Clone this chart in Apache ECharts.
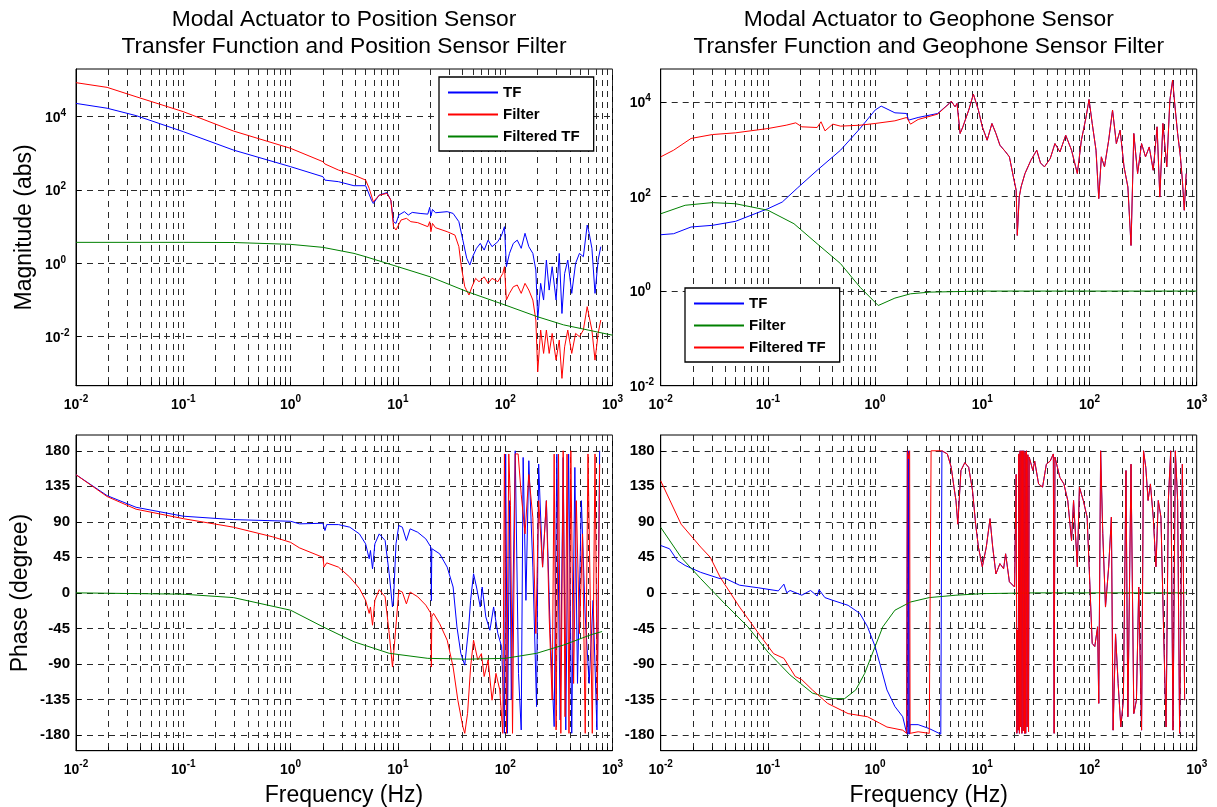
<!DOCTYPE html>
<html>
<head>
<meta charset="utf-8">
<script src="https://cdn.jsdelivr.net/npm/echarts@6/dist/echarts.min.js"></script>
<style>html,body{margin:0;padding:0;background:#fff}#chart{width:1217px;height:807px}</style>
</head>
<body>
<div id="chart"></div>
<script>
// ---------------- tick labels ----------------
const xLabelExps = [-2, -1, 0, 1, 2, 3];          // 10^-2 ... 10^3 Hz
const xGridMultipliers = [1, 2, 3, 4, 5, 6, 7, 8, 9];
const magLabelExps = [-2, 0, 2, 4];                // 10^-2 ... 10^4
const phaseTicks = [-180, -135, -90, -45, 0, 45, 90, 135, 180];

// ---------------- titles / names ----------------
const titleLeft = 'Modal Actuator to Position Sensor\nTransfer Function and Position Sensor Filter';
const titleRight = 'Modal Actuator to Geophone Sensor\nTransfer Function and Geophone Sensor Filter';
const magName = 'Magnitude (abs)';
const phaseName = 'Phase (degree)';
const freqName = 'Frequency (Hz)';
const legendNames = ['TF', 'Filter', 'Filtered TF'];

// ---------------- data: [frequency Hz, magnitude abs] ----------------
const posMagTF = [[0.01,2.3e4],[0.0195,1.7e4],[0.0363,1.07e4],[0.1,3900],[0.293,1230],[1,433],[2.0,231],[2.09,186],[2.79,169],[3.89,131],[5.0,131],[5.2,100],[5.67,53],[5.9,43],[6.7,73],[7.9,85],[8.6,53],[9.1,13.7],[9.6,12.3],[10.2,20.8],[11.5,25.7],[12.5,20.8],[13.6,24.5],[16.1,23],[19.0,22],[19.8,33.7],[20.3,19.4],[21,29.5],[22.4,24],[28.8,25.7],[32.7,23],[37,13.7],[40.3,4.3],[43.8,1.37],[46.8,0.9],[49.7,1.52],[54,2.57],[58.6,3.5],[63.7,2.3],[69.3,4.3],[75.4,2.85],[85.4,3.9],[92.7,5.9],[98.4,10],[102.6,0.81],[109.6,1.87],[119,3.5],[129.5,4.3],[141,2.57],[153,6.6],[166,2.85],[181,1.87],[193,0.66],[201,0.0285],[214,0.285],[228,0.1],[242,1.23],[257,0.187],[274,0.81],[298,0.1],[319,1.87],[338,0.043],[358,0.53],[383,1.23],[417,0.152],[453,1.0],[492,1.87],[535,1.52],[581,11.1],[606,6.6],[643,2.57],[687,0.152],[735,1.23],[778,2.85]];
const posMagFilter = [[0.01,8.45e4],[0.0195,6.3e4],[0.0363,3.5e4],[0.1,1.37e4],[0.293,4070],[1,1370],[2.0,593],[2.09,513],[2.79,351],[3.89,256],[5.0,187],[5.4,111],[5.9,48],[6.7,72],[7.9,81],[8.6,53],[9.1,10],[9.6,8.1],[10.7,15.2],[12.0,16.9],[13.2,13.7],[15.3,12.9],[19.0,10],[19.8,13.7],[20.3,7.3],[21,12.3],[22.4,9.4],[28.8,7.3],[34,5.9],[37,2.85],[39,0.81],[42,0.23],[46,0.137],[49,0.23],[53,0.39],[57,0.316],[63.7,0.43],[69.3,0.285],[75.4,0.39],[85.4,0.316],[95,0.53],[98.4,0.81],[102.6,0.1],[109.6,0.152],[119,0.23],[129.5,0.257],[141,0.152],[153,0.285],[166,0.187],[181,0.1],[193,0.0285],[201,0.0011],[214,0.0152],[228,0.0035],[242,0.0152],[257,0.0035],[274,0.0123],[298,0.0023],[319,0.0081],[338,0.00073],[358,0.0053],[383,0.0152],[417,0.0035],[453,0.0123],[492,0.01],[535,0.0152],[581,0.066],[606,0.035],[643,0.0152],[687,0.0023],[735,0.0123],[778,0.0285]];
const posMagFiltered = [[0.01,3.74],[0.1,3.74],[0.3,3.7],[1,3.3],[2,2.73],[3.9,1.87],[5,1.52],[10,0.81],[20,0.43],[44,0.17],[100,0.073],[200,0.035],[350,0.021],[1000,0.011]];

const geoMagTFLow = [[0.01,15.5],[0.0132,16.3],[0.0192,22.6],[0.0303,24.5],[0.05,29.8],[0.1,55],[0.136,76],[0.19,153],[0.288,357],[0.476,949],[0.723,2720],[1.0,6670],[1.14,8100],[1.53,5850],[1.97,5660],[2.05,4090],[2.52,4660],[3.83,5660]];
const geoMagFilteredLow = [[0.01,686],[0.0132,949],[0.0192,1680],[0.0303,2030],[0.05,2210],[0.1,2720],[0.148,3200],[0.182,3590],[0.207,2960],[0.288,2860],[0.313,3780],[0.341,2430],[0.403,3370],[0.476,3060],[0.723,3200],[1.0,3480],[1.53,3960],[1.97,4660],[2.14,3370],[2.52,4230],[3.83,5480]];
const geoMagHigh = [[4.92,9230],[5.13,10300],[5.57,7840],[5.81,9230],[6.21,2140],[6.59,2960],[7.47,6670],[8.26,14500],[9.2,6670],[10,2960],[11.1,1540],[12.3,3480],[13.4,2140],[14.6,1210],[16.5,873],[17.9,686],[19.5,258],[20.7,135],[21.2,15],[22.1,97],[23,159],[25,304],[28.4,582],[32.2,949],[34.9,511],[38,421],[43,631],[47.6,1310],[53,873],[60,1970],[68,949],[77,304],[84,1540],[93,4810],[99,11200],[106,3480],[115,949],[122,90],[129,686],[138,421],[151,1540],[164,6670],[178,1310],[193,2510],[210,421],[228,159],[244,9.2],[259,2140],[281,304],[306,1310],[333,686],[361,1110],[393,357],[427,2960],[453,97],[484,3480],[526,421],[562,10800],[596,28800],[632,6670],[664,2140],[705,686],[735,220],[766,51],[798,304]];
const geoMagFilter = [[0.01,43],[0.0169,65],[0.0303,74],[0.05,70],[0.1,51],[0.175,26.5],[0.288,10],[0.476,3.8],[0.723,1.21],[1.07,0.495],[1.53,0.71],[2.14,0.875],[3.24,0.95],[10,1.0],[1000,1.0]];

// ---------------- data: [frequency Hz, phase degree] ----------------
const posPhTF = [[0.01,149.7],[0.0195,123.2],[0.0363,108.4],[0.1,97.1],[0.293,92.8],[1,90.7],[1.21,87.4],[2.0,88.2],[2.09,78.9],[2.17,86.5],[2.79,86.5],[3.56,83.2],[4.38,74.7],[5.0,62.1],[5.4,43.2],[5.55,53.7],[5.8,30.5],[6.1,62.1],[6.7,74.7],[7.6,66.3],[8.3,24.2],[8.9,-17.9],[9.1,-9.5],[9.6,62.1],[10.2,85.3],[11.0,83.2],[12.0,66.3],[13.0,81.1],[15.3,76.8],[18.2,68.4],[20.3,57.9],[20.5,-10],[20.7,56],[21.5,57.9],[24.5,49.5],[28.8,32.6],[32.7,7.4],[35.5,-43.2],[38.6,-76.8],[42,-91.6],[45.7,-43.2],[47.6,-9.5],[50.7,24.2],[54,7.4],[58.6,-17.9],[61,7.4],[66,-30.5],[72,-47.4],[78,-17.9],[85.4,-51.6],[92.7,-68.4],[98.4,-177.9],[101,175.8],[105,-177.9],[110,116.8],[114,-135.8],[124,180],[133,-102.1],[141,-173.7],[147,171.6],[156,-9.5],[166,167.4],[181,32.6],[196,-144.2],[205,163.2],[223,32.6],[242,116.8],[263,-51.6],[286,-169.5],[303,175.8],[325,-161.1],[347,171.6],[367,-173.7],[390,175.8],[417,-177.9],[446,158.9],[472,-114.7],[513,116.8],[557,-30.5],[606,-114.7],[659,-9.5],[716,-173.7],[759,180]];
const posPhFilter = [[0.01,149.7],[0.0195,122],[0.0363,106],[0.1,94],[0.293,83.2],[0.68,71],[1,64],[1.21,57],[2.0,45],[2.05,32.6],[2.17,38],[2.79,32.6],[3.56,20],[4.38,5.5],[5.0,-9.5],[5.4,-26],[5.55,-17.9],[5.8,-41],[6.1,-9.5],[6.7,4],[7.6,-5],[8.3,-51.6],[8.9,-94],[9.35,-60],[10.2,3],[11.0,1],[12.0,-14],[13.0,1],[15.3,-5],[18.2,-15.6],[20.3,-26],[20.5,-94],[20.7,-30],[21.5,-26],[24.5,-39],[28.8,-60],[32.7,-94],[36.2,-136],[40.3,-169.5],[42,-178],[44.6,-152.6],[47.6,-94],[50.7,-60],[55.5,-85],[60,-77],[63.7,-106],[69.3,-85],[75.4,-136],[82,-102],[89,-123],[95,-178],[98.4,176],[103,-178],[108,176],[112,111],[117,-178],[124,176],[132,176],[141,125],[153,74.7],[166,150],[181,95],[193,-51.6],[205,116.8],[223,32.6],[242,116.8],[257,-30.5],[274,-135.8],[286,175.8],[298,-173.7],[314,175.8],[330,-178],[347,180],[361,-157],[377,175.8],[393,-178],[409,180],[434,-114.7],[460,116.8],[492,-51.6],[526,74.7],[557,-178],[591,176],[621,-9.5],[648,-178],[687,176],[722,-136],[759,163]];
const posPhFiltered = [[0.01,0],[0.1,-1.7],[0.293,-6],[1,-22],[2,-43],[3.9,-62],[8.3,-76.6],[19,-83],[44,-84],[100,-83],[196,-76.6],[352,-66],[632,-53],[800,-49]];

const geoPhTFLow = [[0.01,60],[0.0121,55.8],[0.0143,41],[0.0169,34.7],[0.0236,26],[0.0358,18],[0.039,19],[0.0544,9.7],[0.0825,6.3],[0.125,2.5],[0.141,11],[0.15,0],[0.161,3],[0.207,-3],[0.25,3],[0.288,-4],[0.3,4],[0.34,-6],[0.403,-9.5],[0.56,-15.8],[0.72,-26],[0.85,-43],[1.0,-68],[1.13,-94],[1.29,-123],[1.53,-144],[1.81,-157],[1.97,-178],[2.0,180],[2.03,-179],[2.06,180],[2.09,-179],[2.12,-167],[2.52,-167],[3.2,-172],[4.1,-179],[4.2,180]];
const geoPhFilteredLow = [[0.01,142],[0.0155,87],[0.0236,58],[0.029,45],[0.0358,20],[0.0544,-18],[0.0825,-52],[0.113,-77],[0.141,-83],[0.18,-106],[0.207,-110],[0.26,-123],[0.36,-140],[0.56,-153],[0.85,-157],[1.1,-165],[1.29,-170],[1.81,-174],[1.97,-178],[2.0,180],[2.05,170],[2.1,180],[2.12,-178],[2.52,-176],[3.2,-178],[3.3,-179],[3.33,180],[4.2,180]];
const geoPhHigh = [[4.34,180],[4.72,176],[5.13,159],[5.44,134],[5.68,117],[5.91,87],[6.32,155],[6.87,165],[7.46,159],[8.1,130],[8.67,87],[9.2,58],[10,33],[10.9,58],[11.8,94],[12.5,58],[13.4,24],[14.6,37],[15.8,30.5],[16.5,49.5],[17.9,14],[20,7.4],[20.7,150],[21.0,-178],[21.3,-47],[21.6,-174],[21.9,176],[22.2,-178],[22.5,180],[22.8,-170],[23.1,180],[23.4,-178],[23.8,180],[24.1,-175],[24.4,180],[24.8,-178],[25.1,178],[25.4,-178],[25.8,180],[26.2,-170],[26.6,175],[27.0,-176],[27.4,172],[29.6,155],[30.8,167],[33.5,138],[36.5,134],[39.6,163],[43,167],[46,176],[46.8,-178],[47.6,172],[53,146],[57.7,138],[62.7,117],[68,66],[71,117],[77,33],[80.5,134],[87.5,117],[95,96],[101,7.4],[106,-64],[112,-68],[119,-43],[122,-140],[127,180],[133,75],[141,-18],[151,33],[160,96],[166,-174],[175,-52],[185,-115],[196,-170],[207,-136],[219,155],[228,-157],[244,163],[259,-153],[274,-136],[288,7.4],[306,-174],[319,180],[335,159],[352,117],[370,138],[393,96],[417,33],[438,117],[464,96],[492,-52],[518,-170],[544,117],[572,180],[601,-174],[632,180],[664,117],[693,-178],[735,163],[772,-136]];
const geoPhFilter = [[0.01,83],[0.0155,45],[0.0236,18],[0.0394,-13.5],[0.065,-43],[0.1,-75],[0.161,-104],[0.26,-127],[0.403,-134],[0.52,-134],[0.66,-123],[0.8,-102],[1.0,-68],[1.18,-43],[1.53,-22],[2.14,-11.6],[3.2,-6],[5.68,-3],[10,-1],[30.8,0],[800,0]];

// ---------------- build ----------------
const FONT = '"Liberation Sans", Arial, Helvetica, sans-serif';
const BLUE = '#0000ff', RED = '#ff0000', GREEN = '#008000';
const lg = v => Math.log10(v);
const magPts = a => a.map(p => [lg(p[0]), lg(p[1])]);
const phPts = a => a.map(p => [lg(p[0]), p[1]]);

const xGridVals = [];
xLabelExps.slice(0, -1).forEach(e => xGridVals.push(...xGridMultipliers.map(k => e + lg(k))));
xGridVals.push(xLabelExps[xLabelExps.length - 1]);

const grids = [
  {left: 76, top: 69, width: 536.5, height: 316.7},
  {left: 660.7, top: 69, width: 536, height: 316.7},
  {left: 76, top: 435, width: 536.5, height: 315.7},
  {left: 660.7, top: 435, width: 536, height: 315.7}
];

const dash = {color: '#2a2a2a', width: 1, type: [6, 5]};
const powRich = {
  b: {fontSize: 14, fontWeight: 'bold', color: '#000', fontFamily: FONT, lineHeight: 17, verticalAlign: 'bottom'},
  s: {fontSize: 10, fontWeight: 'bold', color: '#000', fontFamily: FONT, lineHeight: 4, verticalAlign: 'top'}
};
const powFmt = v => '{b|10}{s|' + Math.round(v) + '}';

const xAxes = grids.map((g, i) => ({
  type: 'value', gridIndex: i, min: -2, max: 3,
  axisLine: {show: true, onZero: false, lineStyle: {color: '#000', width: 1}},
  axisTick: {show: true, inside: true, length: 4, customValues: xGridVals, lineStyle: {color: '#000'}},
  axisLabel: {customValues: xLabelExps, formatter: powFmt, rich: powRich, margin: 9},
  splitLine: {show: true, lineStyle: dash}
}));

const magY = (i, min, max) => ({
  type: 'value', gridIndex: i, min: min, max: max,
  axisLine: {show: true, onZero: false, lineStyle: {color: '#000', width: 1}},
  axisTick: {show: true, inside: true, length: 5, customValues: magLabelExps, lineStyle: {color: '#000'}},
  axisLabel: {customValues: magLabelExps, formatter: powFmt, rich: powRich, align: 'left', margin: 31},
  splitLine: {show: true, lineStyle: dash}
});
const phY = i => ({
  type: 'value', gridIndex: i, min: -200, max: 200,
  axisLine: {show: true, onZero: false, lineStyle: {color: '#000', width: 1}},
  axisTick: {show: true, inside: true, length: 5, customValues: phaseTicks, lineStyle: {color: '#000'}},
  axisLabel: {customValues: phaseTicks, margin: 6, fontSize: 15, fontWeight: 'bold', color: '#000', fontFamily: FONT},
  splitLine: {show: true, lineStyle: dash}
});

const yAxes = [magY(0, -3.336, 5.30), magY(1, -2, 4.693), phY(2), phY(3)];

const line = (name, idx, color, data) => ({
  name: name, type: 'line', xAxisIndex: idx, yAxisIndex: idx, data: data,
  symbol: 'none', showSymbol: false, clip: true, animation: false,
  color: color,
  lineStyle: {color: color, width: 1}, itemStyle: {color: color}
});

// position-sensor series use plain names; geophone series get a "|geo" key suffix
const P = legendNames, G = legendNames.map(n => n + '|geo');
const series = [
  line(P[0], 0, BLUE, magPts(posMagTF)),
  line(P[1], 0, RED, magPts(posMagFilter)),
  line(P[2], 0, GREEN, magPts(posMagFiltered)),
  line(G[0], 1, BLUE, magPts(geoMagTFLow.concat(geoMagHigh))),
  line(G[1], 1, GREEN, magPts(geoMagFilter)),
  line(G[2], 1, RED, magPts(geoMagFilteredLow.concat(geoMagHigh))),
  line(P[0], 2, BLUE, phPts(posPhTF)),
  line(P[1], 2, RED, phPts(posPhFilter)),
  line(P[2], 2, GREEN, phPts(posPhFiltered)),
  line(G[0], 3, BLUE, phPts(geoPhTFLow.concat(geoPhHigh))),
  line(G[1], 3, GREEN, phPts(geoPhFilter)),
  line(G[2], 3, RED, phPts(geoPhFilteredLow.concat(geoPhHigh)))
];

const legendBase = {
  orient: 'vertical', icon: 'rect', itemWidth: 50, itemHeight: 2, itemGap: 7,
  padding: [8, 14, 7, 9], borderColor: '#000', borderWidth: 1.3, backgroundColor: '#fff',
  selectedMode: false, formatter: n => n.split('|')[0],
  textStyle: {fontSize: 15, fontWeight: 'bold', color: '#000', fontFamily: FONT, lineHeight: 15, height: 15}
};
const legItem = (name, color) => ({name: name, itemStyle: {color: color, borderWidth: 0}});

const txt = (text, x, y, size, rot, lh) => ({
  type: 'text', x: x, y: y, rotation: rot || 0, silent: true,
  style: {text: text, fill: '#000', font: 'normal ' + size + 'px ' + FONT, align: 'center', verticalAlign: 'middle', lineHeight: lh || size * 1.2}
});

const option = {
  animation: false,
  backgroundColor: '#fff',
  textStyle: {fontFamily: FONT},
  grid: grids.map(g => Object.assign({show: true, borderColor: '#000', borderWidth: 1, containLabel: false, outerBoundsMode: 'none'}, g)),
  xAxis: xAxes,
  yAxis: yAxes,
  legend: [
    Object.assign({id: 'legPos', left: 439, top: 77, data: [legItem(P[0], BLUE), legItem(P[1], RED), legItem(P[2], GREEN)]}, legendBase),
    Object.assign({id: 'legGeo', left: 685, top: 288, data: [legItem(G[0], BLUE), legItem(G[1], GREEN), legItem(G[2], RED)]}, legendBase)
  ],
  graphic: [
    txt(titleLeft, 344, 33.4, 22.8, 0, 26.7),
    txt(titleRight, 928.7, 33.4, 22.8, 0, 26.7),
    txt(magName, 25, 227.4, 23, Math.PI / 2),
    txt(phaseName, 21, 593, 23, Math.PI / 2),
    txt(freqName, 344, 796, 23),
    txt(freqName, 928.7, 796, 23)
  ],
  series: series
};

const chart = echarts.init(document.getElementById('chart'), null, {renderer: 'canvas'});
chart.setOption(option);
</script>
</body>
</html>
